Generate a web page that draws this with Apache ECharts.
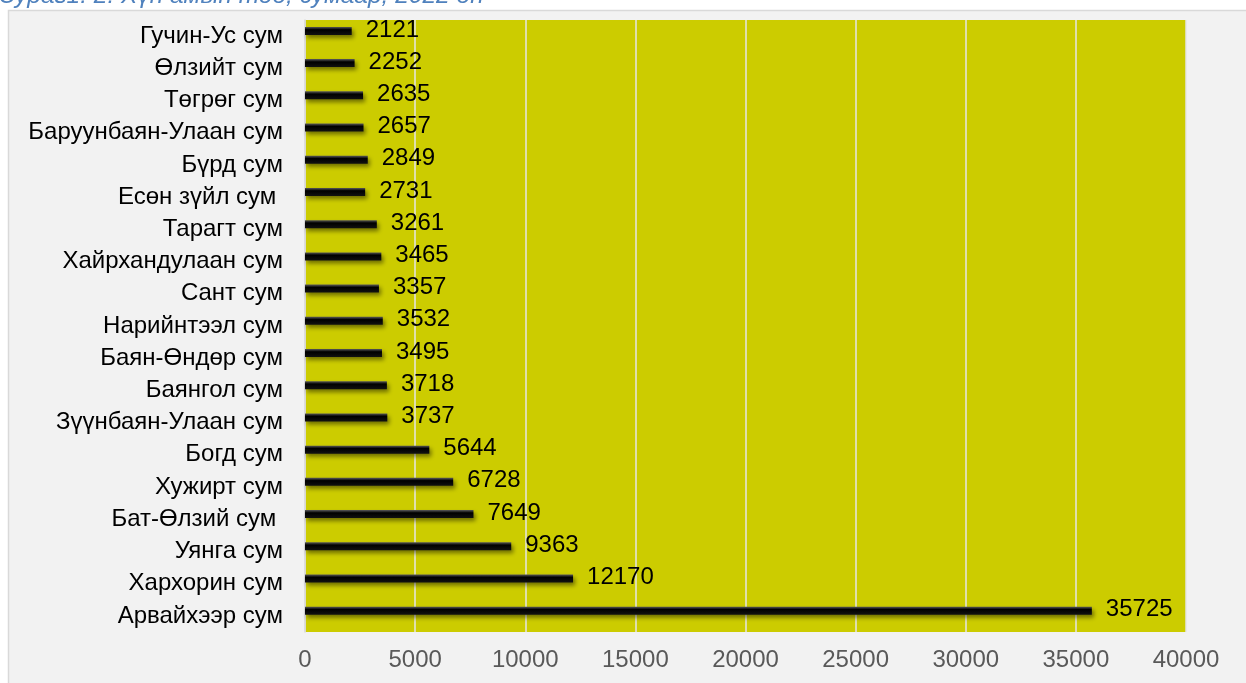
<!DOCTYPE html>
<html>
<head>
<meta charset="utf-8">
<script src="https://cdn.jsdelivr.net/npm/echarts@6/dist/echarts.min.js"></script>
<style>
html,body{margin:0;padding:0;background:#fff;}
#chart{width:1246px;height:683px;}
</style>
</head>
<body>
<div id="chart"></div>
<script>
const captionText = 'Зураг1. 2. Хүн амын тоо, сумаар, 2022 он';
const categories = [
  'Арвайхээр сум','Хархорин сум','Уянга сум','Бат-Өлзий сум ','Хужирт сум','Богд сум',
  'Зүүнбаян-Улаан сум','Баянгол сум','Баян-Өндөр сум','Нарийнтээл сум','Сант сум',
  'Хайрхандулаан сум','Тарагт сум','Есөн зүйл сум ','Бүрд сум','Баруунбаян-Улаан сум',
  'Төгрөг сум','Өлзийт сум','Гучин-Ус сум'
];
const population = [
  35725,12170,9363,7649,6728,5644,
  3737,3718,3495,3532,3357,
  3465,3261,2731,2849,2657,
  2635,2252,2121
];
const xTicks = {min:0, max:40000, interval:5000};

const chart = echarts.init(document.getElementById('chart'));
const font = 'Liberation Sans, Arial, sans-serif';
chart.setOption({
  animation:false,
  backgroundColor:'#ffffff',
  graphic:[
    {type:'rect', z:-10, shape:{x:8.5,y:10.5,width:1250,height:700},
     style:{fill:'#f2f2f2', stroke:'#d9d9d9', lineWidth:1.5}},
    {type:'text', z:10, style:{text:captionText, x:0, y:9, textVerticalAlign:'bottom',
     font:'italic 24.5px '+font, fill:'#4f81bd'}}
  ],
  grid:{left:305, right:60, top:20, bottom:51, show:true, backgroundColor:'#cccc00', borderWidth:0},
  xAxis:{
    type:'value', min:xTicks.min, max:xTicks.max, interval:xTicks.interval,
    axisLine:{show:false}, axisTick:{show:false},
    splitLine:{show:true, lineStyle:{color:'#e6e6e6', width:1.5}},
    axisLabel:{color:'#595959', fontSize:24, fontFamily:font, margin:16,
      formatter:function(v){return String(v);}}
  },
  yAxis:{
    type:'category', data:categories,
    axisLine:{show:true, lineStyle:{color:'#d9d9d9', width:1.5}},
    axisTick:{show:false},
    axisLabel:{color:'#000', fontSize:24, fontFamily:font, margin:22}
  },
  series:[
    {
      type:'bar', data:population, barWidth:8, barGap:'30%',
      itemStyle:{
        color:new echarts.graphic.LinearGradient(0,0,0,1,[
          {offset:0,color:'#5a5a5a'},{offset:0.35,color:'#000'},{offset:1,color:'#111'}]),
        shadowColor:'rgba(0,0,0,0.45)', shadowBlur:4, shadowOffsetX:2, shadowOffsetY:3
      },
      label:{show:true, position:'right', distance:14, offset:[0,-1],
        color:'#000', fontSize:24, fontFamily:font}
    },
    {type:'bar', data:[], barWidth:8}
  ]
});
</script>
</body>
</html>
